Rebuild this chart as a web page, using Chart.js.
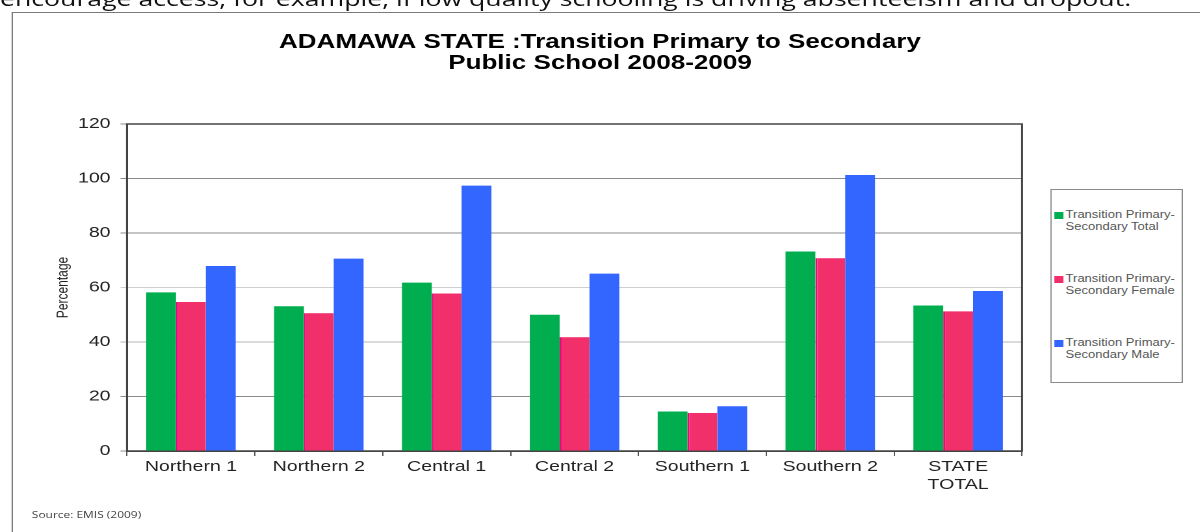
<!DOCTYPE html>
<html lang="en">
<head>
    <meta charset="UTF-8">
    <meta name="viewport" content="width=device-width, initial-scale=1.0">
    <title>ADAMAWA STATE :Transition Primary to Secondary</title>
    <script src="https://cdn.jsdelivr.net/npm/chart.js"></script>
    <style>
        html, body { margin: 0; padding: 0; background: #fff; overflow: hidden; }
        body { width: 1200px; height: 532px; position: relative; }
        /* the original picture is stretched sideways, so everything sits in a scaled box */
        #estirado { position: absolute; left: 0; top: 0; width: 923px; height: 532px; transform: scaleX(1.3); transform-origin: 0 0; }
        .textoPagina { position: absolute; left: 0; top: -16px; font-family: 'Open Sans', sans-serif; font-size: 20.5px; color: #111; white-space: nowrap; }
        .marco { position: absolute; left: 9px; top: 12px; width: 1000px; height: 600px; border: 1px solid #7a7a7a; }
        canvas { position: absolute; left: 0; top: 0; }
        .leyenda { position: absolute; left: 807.7px; top: 189px; width: 100px; height: 192px; border: 1px solid #8a8a8a; background: #fff; }
        .item { position: absolute; left: 2px; font-family: 'Liberation Sans', Arial, sans-serif; font-size: 10px; line-height: 12px; color: #555; }
        .item span.cuadro { position: absolute; left: 0; top: 3px; width: 7px; height: 7px; }
        .item div { padding-left: 9px; white-space: nowrap; }
        .fuente { position: absolute; left: 24.5px; top: 508px; font-family: 'Open Sans', sans-serif; font-size: 9.2px; color: #444; }
    </style>
</head>
<body>
<div id="estirado">
    <div class="textoPagina">encourage access, for example, if low quality schooling is driving absenteeism and dropout.</div>
    <div class="marco"></div>
    <canvas id="grafico" width="923" height="532"></canvas>
    <div class="leyenda" id="leyenda"></div>
    <div class="fuente">Source: EMIS (2009)</div>
</div>

<script>
    const categorias = ['Northern 1', 'Northern 2', 'Central 1', 'Central 2', 'Southern 1', 'Southern 2', ['STATE', 'TOTAL']];
    const serieTotal = [58.2, 53.1, 61.8, 50.0, 14.5, 73.2, 53.4];
    const serieFemenina = [54.7, 50.6, 57.8, 41.8, 14.0, 70.8, 51.3];
    const serieMasculina = [67.9, 70.6, 97.4, 65.1, 16.4, 101.3, 58.7];
    const nombresSeries = ['Transition Primary-Secondary Total', 'Transition Primary-Secondary Female', 'Transition Primary-Secondary Male'];
    const ticksY = [0, 20, 40, 60, 80, 100, 120];
    const titulo = ['ADAMAWA STATE :Transition Primary to Secondary', 'Public School 2008-2009'];

    Chart.defaults.font.family = "'Liberation Sans', Arial, sans-serif";

    // frame around the plot area (top and right sides)
    const marcoGrafico = {
        id: 'marcoGrafico',
        beforeDatasetsDraw(chart) {
            const { ctx, chartArea: a } = chart;
            ctx.save();
            ctx.strokeStyle = '#444';
            ctx.lineWidth = 1.5;
            ctx.strokeRect(a.left, a.top, a.right - a.left, a.bottom - a.top);
            ctx.restore();
        }
    };

    let ctx = document.getElementById('grafico').getContext('2d');
    let chart = new Chart(ctx, {
        type: 'bar',
        data: {
            labels: categorias,
            datasets: [
                { label: nombresSeries[0], data: serieTotal, backgroundColor: '#00AE4F' },
                { label: nombresSeries[1], data: serieFemenina, backgroundColor: '#F1306B', borderColor: '#E8087C', borderWidth: { left: 1.5 } },
                { label: nombresSeries[2], data: serieMasculina, backgroundColor: '#3366FF' }
            ]
        },
        options: {
            responsive: false,
            animation: false,
            devicePixelRatio: 2,
            categoryPercentage: 0.7,
            barPercentage: 1.0,
            layout: { padding: { left: 0, right: 0, top: 0, bottom: 31 } },
            plugins: {
                legend: { display: false },
                tooltip: { enabled: false },
                title: {
                    display: true,
                    text: titulo,
                    color: '#000',
                    font: { size: 20, weight: 'bold', lineHeight: 1.05 },
                    padding: { top: 32, bottom: 50 }
                }
            },
            scales: {
                x: {
                    afterFit(scale) { scale.height = 50; },
                    grid: { drawOnChartArea: false, drawTicks: true, tickLength: 5, color: '#555', offset: true },
                    border: { display: true, color: '#444', width: 1.5 },
                    ticks: { color: '#222', font: { size: 15 }, padding: 2, maxRotation: 0 }
                },
                y: {
                    min: ticksY[0],
                    max: ticksY[ticksY.length - 1],
                    afterFit(scale) { scale.width = 97.7; },
                    afterBuildTicks(scale) { scale.ticks = ticksY.map(v => ({ value: v })); },
                    grid: {
                        color: (c) => c.tick && c.tick.value === 60 ? '#cfcfcf' : (c.tick && c.tick.value === 40 ? '#b4b4b4' : '#8a8a8a'),
                        lineWidth: 1,
                        tickLength: 5
                    },
                    border: { display: true, color: '#444', width: 1.5 },
                    ticks: { color: '#222', font: { size: 15 }, padding: 7.7 },
                    title: { display: true, text: 'Percentage', color: '#222', font: { size: 12 }, padding: { top: 41.5 } }
                },
                hueco: {
                    // empty space on the right, where the legend box sits
                    type: 'linear',
                    position: 'right',
                    afterFit(scale) { scale.width = 136.8; },
                    ticks: { display: false },
                    grid: { display: false },
                    border: { display: false }
                }
            }
        },
        plugins: [marcoGrafico]
    });

    // legend box built from the chart datasets
    const leyenda = document.getElementById('leyenda');
    const posicionesLeyenda = [19, 83, 147];
    chart.data.datasets.forEach((ds, i) => {
        const item = document.createElement('div');
        item.className = 'item';
        item.style.top = posicionesLeyenda[i] + 'px';
        const cuadro = document.createElement('span');
        cuadro.className = 'cuadro';
        cuadro.style.background = ds.backgroundColor;
        item.appendChild(cuadro);
        const corte = ds.label.indexOf('-') + 1;
        [ds.label.slice(0, corte), ds.label.slice(corte)].forEach(t => {
            const linea = document.createElement('div');
            linea.textContent = t;
            item.appendChild(linea);
        });
        leyenda.appendChild(item);
    });
</script>
</body>
</html>
